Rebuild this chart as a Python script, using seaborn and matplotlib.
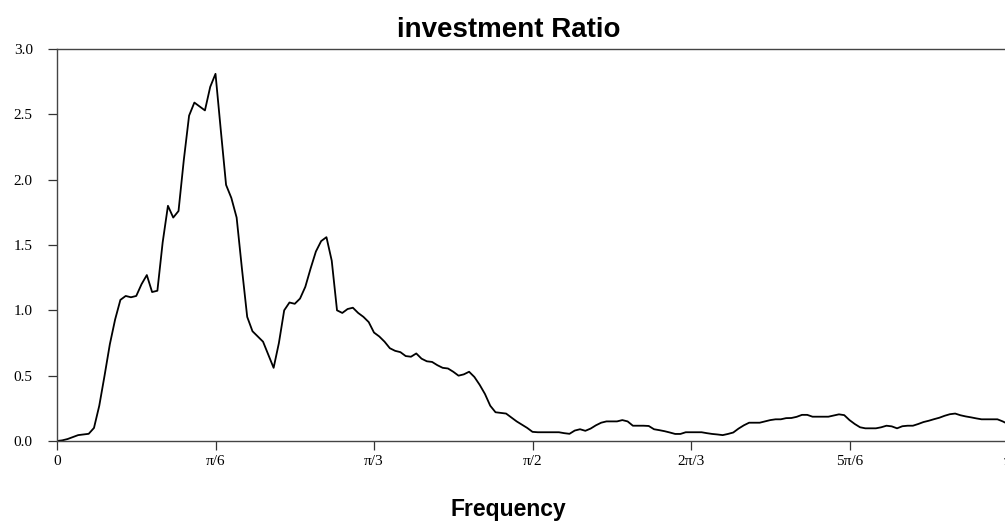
import numpy as np
import matplotlib
matplotlib.use('Agg')
import matplotlib.pyplot as plt
import seaborn as sns

# spectrum values, one per degree of frequency (0 .. pi)
ratio = [
    0.0, 0.005, 0.015, 0.03, 0.045, 0.05, 0.055, 0.10, 0.27, 0.50,
    0.74, 0.93, 1.08, 1.11, 1.10, 1.11, 1.20, 1.27, 1.14, 1.15,
    1.52, 1.80, 1.71, 1.76, 2.15, 2.49, 2.59, 2.56, 2.53, 2.71,
    2.81, 2.38, 1.96, 1.86, 1.71, 1.32, 0.95, 0.84, 0.80, 0.76,
    0.66, 0.56, 0.75, 1.00, 1.06, 1.05, 1.09, 1.18, 1.32, 1.45,
    1.53, 1.56, 1.38, 1.00, 0.98, 1.01, 1.02, 0.98, 0.95, 0.91,
    0.83, 0.80, 0.76, 0.71, 0.69, 0.68, 0.65, 0.645, 0.67, 0.63,
    0.61, 0.605, 0.58, 0.56, 0.555, 0.53, 0.50, 0.51, 0.53, 0.49,
    0.43, 0.36, 0.27, 0.22, 0.215, 0.21, 0.18, 0.15, 0.125, 0.10,
    0.07, 0.067, 0.067, 0.067, 0.067, 0.067, 0.06, 0.055, 0.08, 0.09,
    0.078, 0.095, 0.12, 0.14, 0.15, 0.15, 0.15, 0.16, 0.15, 0.117,
    0.117, 0.117, 0.115, 0.09, 0.083, 0.075, 0.065, 0.054, 0.054, 0.067,
    0.067, 0.067, 0.067, 0.06, 0.054, 0.05, 0.045, 0.054, 0.065, 0.095,
    0.12, 0.14, 0.14, 0.14, 0.15, 0.16, 0.166, 0.166, 0.175, 0.176,
    0.185, 0.20, 0.20, 0.186, 0.186, 0.186, 0.186, 0.195, 0.204, 0.198,
    0.16, 0.13, 0.105, 0.097, 0.097, 0.097, 0.105, 0.117, 0.112, 0.097,
    0.113, 0.117, 0.117, 0.13, 0.145, 0.155, 0.167, 0.178, 0.193, 0.205,
    0.21, 0.197, 0.188, 0.181, 0.173, 0.166, 0.166, 0.166, 0.166, 0.15,
    0.13,
]
freq = np.arange(len(ratio)) * np.pi / 180

xtick_pos = [0, np.pi / 6, np.pi / 3, np.pi / 2, 2 * np.pi / 3, 5 * np.pi / 6, np.pi]
xtick_labels = ['0', 'π/6', 'π/3', 'π/2', '2π/3', '5π/6', 'π']
ytick_pos = [0.0, 0.5, 1.0, 1.5, 2.0, 2.5, 3.0]

fig = plt.figure(figsize=(10.05, 5.26), dpi=100)
ax = fig.add_axes([57 / 1005, 85 / 526, 951 / 1005, 392 / 526])

sns.lineplot(x=freq, y=ratio, ax=ax, color='black', linewidth=1.3, estimator=None)

ax.set_xlim(0, np.pi)
ax.set_ylim(0, 3)
ax.set_xticks(xtick_pos)
ax.set_xticklabels(xtick_labels)
ax.set_yticks(ytick_pos)
ax.set_yticklabels([f'{v:.1f}' for v in ytick_pos])

for lab in ax.get_xticklabels() + ax.get_yticklabels():
    lab.set_family('Liberation Serif')
    lab.set_fontsize(11)

ax.tick_params(axis='both', direction='out', length=6.5, width=0.9, color='#333333')
ax.tick_params(axis='y', pad=11)
ax.tick_params(axis='x', pad=3.5)

for sp in ax.spines.values():
    sp.set_color('#444444')
    sp.set_linewidth(1.0)

ax.set_title('investment Ratio', fontsize=20, fontweight='bold',
             family='Liberation Sans', x=0.475, pad=8.9)
ax.set_xlabel('Frequency', fontsize=16.5, fontweight='bold', family='Liberation Sans')
ax.xaxis.set_label_coords(0.475, -(515.7 - 441) / 392)
ax.xaxis.label.set_va('baseline')
ax.set_ylabel('')

fig.savefig('out.png', dpi=100)
